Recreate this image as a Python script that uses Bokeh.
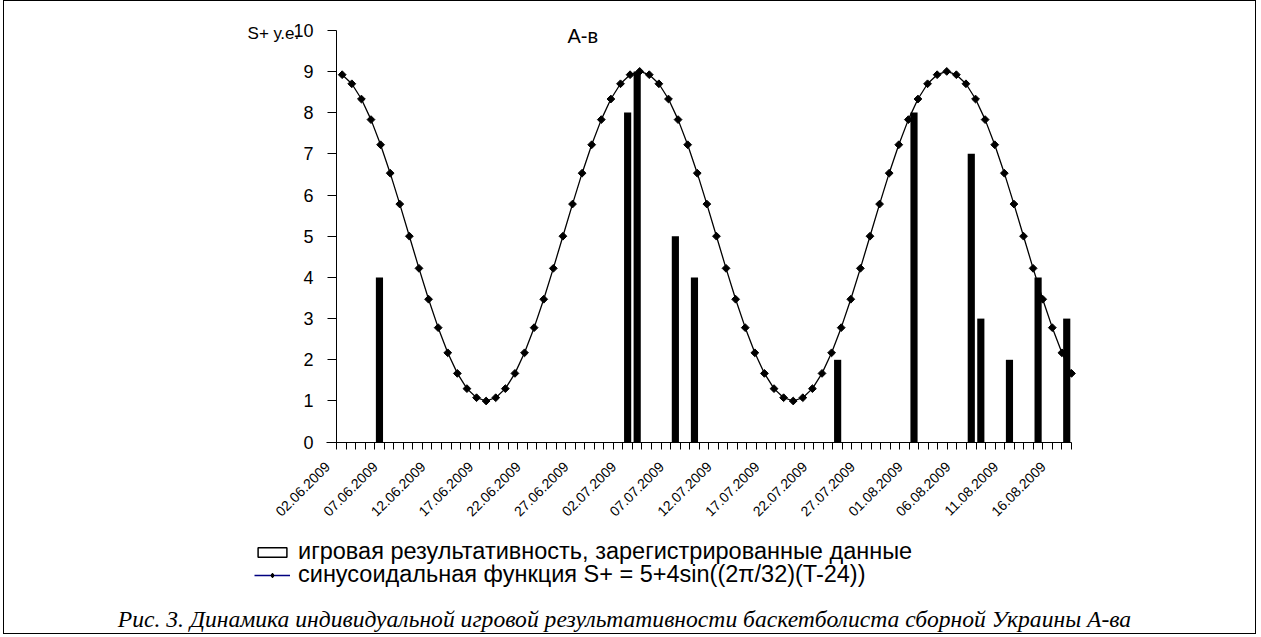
from math import pi
import pandas as pd
from bokeh.plotting import figure
from bokeh.models import Range1d, FixedTicker, Label, Legend, LegendItem, LinearAxis
from bokeh.embed import file_html
from bokeh.resources import INLINE

# ---- data ----
days = [d.strftime("%d.%m.%Y") for d in pd.date_range("2009-06-02", "2009-08-17")]
tick_dates = ["02.06.2009", "07.06.2009", "12.06.2009", "17.06.2009", "22.06.2009",
              "27.06.2009", "02.07.2009", "07.07.2009", "12.07.2009", "17.07.2009",
              "22.07.2009", "27.07.2009", "01.08.2009", "06.08.2009", "11.08.2009",
              "16.08.2009"]
bar_dates = ["06.06.2009", "02.07.2009", "03.07.2009", "07.07.2009", "09.07.2009",
             "24.07.2009", "01.08.2009", "07.08.2009", "08.08.2009", "11.08.2009",
             "14.08.2009", "17.08.2009"]
bar_values = [4, 8, 9, 5, 4, 2, 8, 7, 3, 2, 4, 3]
sine_T = list(range(1, 78))
sine_values = [8.92, 8.70, 8.33, 7.83, 7.22, 6.53, 5.78, 5.00, 4.22, 3.47,
               2.78, 2.17, 1.67, 1.30, 1.08, 1.00, 1.08, 1.30, 1.67, 2.17,
               2.78, 3.47, 4.22, 5.00, 5.78, 6.53, 7.22, 7.83, 8.33, 8.70,
               8.92, 9.00, 8.92, 8.70, 8.33, 7.83, 7.22, 6.53, 5.78, 5.00,
               4.22, 3.47, 2.78, 2.17, 1.67, 1.30, 1.08, 1.00, 1.08, 1.30,
               1.67, 2.17, 2.78, 3.47, 4.22, 5.00, 5.78, 6.53, 7.22, 7.83,
               8.33, 8.70, 8.92, 9.00, 8.92, 8.70, 8.33, 7.83, 7.22, 6.53,
               5.78, 5.00, 4.22, 3.47, 2.78, 2.17, 1.67]
y_ticks = list(range(0, 11))
legend_labels = ["игровая результативность, зарегистрированные данные",
                 "синусоидальная функция S+ = 5+4sin((2π/32)(T-24))"]
y_title = "S+ у.е."
chart_title = "А-в"
caption = "Рис. 3. Динамика индивидуальной игровой результативности баскетболиста сборной Украины А-ва"

# ---- derived ----
n = len(days)
bar_idx = [days.index(d) for d in bar_dates]
tick_idx = [days.index(d) for d in tick_dates]
line_idx = [t - 1 for t in sine_T]
LABEL_SHIFT = -1.45
tick_pos = [i + LABEL_SHIFT for i in tick_idx]
NAN = float("nan")

FONT = "Liberation Sans"
W, H = 1253, 634

# the frame covers the whole canvas; axes sit at fixed locations inside it
p = figure(width=W, height=H, output_backend="svg", toolbar_location=None, title=None,
           x_range=Range1d(-35.281, 95.985), y_range=Range1d(-4.692, 10.697),
           x_axis_location=None, y_axis_location=None,
           min_border_left=0, min_border_right=0, min_border_top=0, min_border_bottom=0)
p.extra_x_ranges = {"line": Range1d(-35.192, 95.383)}
p.styles = {"border": "1px solid black", "margin-left": "3px"}
p.outline_line_color = None
p.grid.visible = False
p.background_fill_color = "white"
p.border_fill_color = "white"

xa = LinearAxis(fixed_location=0, bounds=(-1.5, n - 0.5),
                ticker=FixedTicker(ticks=tick_pos, minor_ticks=[i - 0.5 for i in range(n + 1)]))
xa.major_label_overrides = {tp: days[i] for tp, i in zip(tick_pos, tick_idx)}
xa.major_tick_out = 0
xa.major_tick_in = 0
xa.minor_tick_out = 7
xa.minor_tick_in = 0
xa.minor_tick_line_color = "black"
xa.axis_line_color = "black"
xa.major_label_orientation = pi / 4
xa.major_label_text_font = FONT
xa.major_label_text_font_size = "14px"
xa.major_label_text_color = "black"
xa.major_label_standoff = 15
p.add_layout(xa, "below")

ya = LinearAxis(fixed_location=-0.5, bounds=(0, 10), ticker=FixedTicker(ticks=y_ticks))
ya.major_tick_out = 9
ya.major_tick_in = 0
ya.minor_tick_out = 0
ya.minor_tick_in = 0
ya.axis_line_color = "black"
ya.major_tick_line_color = "black"
ya.major_label_text_font = FONT
ya.major_label_text_font_size = "18px"
ya.major_label_text_color = "black"
ya.major_label_standoff = 14
p.add_layout(ya, "left")

bars = p.vbar(x=bar_idx, top=bar_values, width=0.75, fill_color="black", line_color=None)
line_r = p.line(x=line_idx, y=sine_values, x_range_name="line", line_color="black", line_width=1.3)
pts = p.scatter(x=line_idx, y=sine_values, x_range_name="line", marker="square",
                angle=pi / 4, size=5.5, fill_color="black", line_color="black")

# legend-only renderers (legend symbols are styled differently from the marks; NaN -> not drawn)
leg_bar = p.vbar(x=[NAN], top=[NAN], width=0.75, fill_color="white", line_color="black", line_width=1.5)
leg_line = p.line(x=[NAN], y=[NAN], line_color="#000080", line_width=1.5)
leg_pt = p.scatter(x=[NAN], y=[NAN], marker="diamond", size=10, fill_color="black", line_color="black")

legend_style = dict(orientation="vertical", glyph_width=36, glyph_height=12, label_standoff=8,
                    label_height=24, spacing=0, padding=0, margin=0,
                    border_line_color=None, background_fill_alpha=0,
                    label_text_font=FONT, label_text_font_size="23.5px", label_text_color="black")
legend_a = Legend(items=[LegendItem(label=legend_labels[0], renderers=[leg_bar])],
                  location=(250, 70), label_text_baseline="alphabetic", **legend_style)
legend_b = Legend(items=[LegendItem(label=legend_labels[1], renderers=[leg_line, leg_pt])],
                  location=(250, 47), label_text_baseline="middle", **legend_style)
p.add_layout(legend_a)
p.add_layout(legend_b)

p.add_layout(Label(x=-9.82, y=9.92, text=y_title, text_font=FONT, text_font_size="17px",
                   text_baseline="middle", text_align="left", text_color="black"))
p.add_layout(Label(x=23.7, y=9.87, text=chart_title, text_font=FONT, text_font_size="20px",
                   text_baseline="middle", text_align="left", text_color="black"))
p.add_layout(Label(x=29.67, y=-4.28, text=caption, text_font="Liberation Serif",
                   text_font_style="italic", text_font_size="23.6px",
                   text_baseline="middle", text_align="center", text_color="black"))

open("out.html", "w").write(file_html(p, INLINE))
